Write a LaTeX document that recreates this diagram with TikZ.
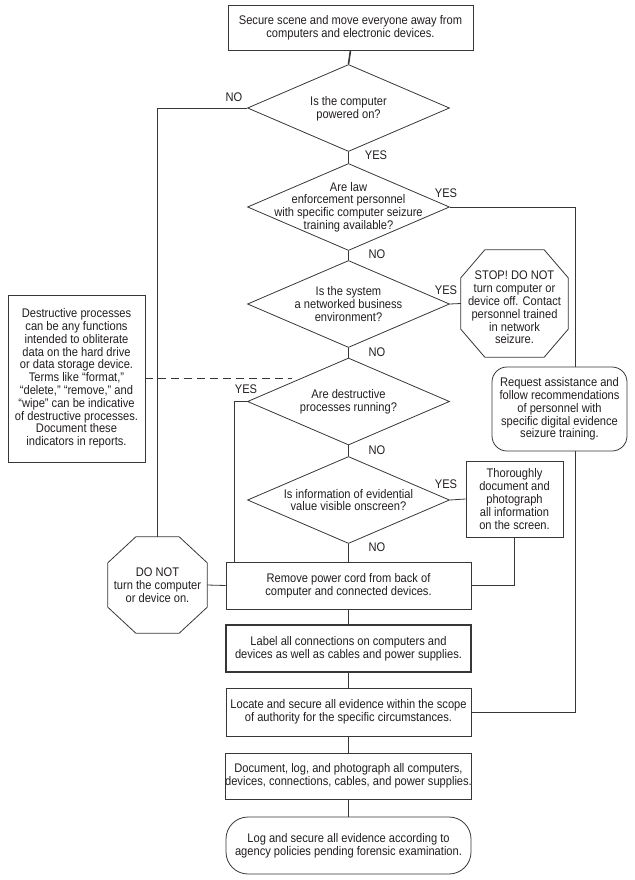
\documentclass[tikz,border=0pt]{standalone}
\usepackage{fontspec}
\setmainfont{Liberation Sans}[FakeStretch=0.89]
\usetikzlibrary{shapes.geometric}
\definecolor{ink}{RGB}{35,31,32}
\definecolor{rulec}{RGB}{55,55,55}
\newcommand{\octdraw}[3]{\draw[shapeline] ([xshift=#2]#1.north west) -- ([xshift=-#2]#1.north east) -- ([yshift=-#3]#1.north east) -- ([yshift=#3]#1.south east) -- ([xshift=-#2]#1.south east) -- ([xshift=#2]#1.south west) -- ([yshift=#3]#1.south west) -- ([yshift=-#3]#1.north west) -- cycle;}
\begin{document}
\begin{tikzpicture}[x=1pt,y=-1pt,
  every node/.style={font=\fontsize{12.5}{12.8}\selectfont, text=ink, align=center, inner sep=0pt},
  shapeline/.style={draw=rulec, line width=0.8pt},
  box/.style={shapeline, fill=white, minimum width=245pt, minimum height=47pt},
  dia/.style={diamond, shapeline, minimum width=202pt, minimum height=87pt},
  plain/.style={shapeline, fill=white},
  mainlink/.style={draw=rulec, line width=1.6pt},
  sidelink/.style={draw=rulec, line width=0.8pt},
  dashlink/.style={draw=rulec, line width=1.6pt, dash pattern=on 8pt off 5pt}
]
\useasboundingbox (0,0) rectangle (634,880);

% main column
\node[box, minimum height=45pt] (b1) at (350.5,27.5) {Secure scene and move everyone away from\\computers and electronic devices.};
\node[dia, label={[yshift=-1pt]center:{Is the computer\\powered on?}}] (d1) at (348.5,108) {};
\node[dia, label={center:{Are law\\enforcement personnel\\with specific computer seizure\\training available?}}] (d2) at (348.5,207) {};
\node[dia, label={center:{Is the system\\a networked business\\environment?}}] (d3) at (348.5,304) {};
\node[dia, label={center:{Are destructive\\processes running?}}] (d4) at (348.5,401.5) {};
\node[dia, label={center:{Is information of evidential\\value visible onscreen?}}] (d5) at (348.5,500) {};
\node[box] (remove) at (348.5,585.5) {Remove power cord from back of\\computer and connected devices.};
\node[box, line width=1.2pt] (label) at (348.5,648.5) {Label all connections on computers and\\devices as well as cables and power supplies.};
\node[box, minimum height=48pt] (locate) at (348.5,712) {Locate and secure all evidence within the scope\\of authority for the specific circumstances.};
\node[box, minimum height=46pt] (document) at (348.5,776) {Document, log, and photograph all computers,\\devices, connections, cables, and power supplies.};
\node[box, minimum height=57pt, rounded corners=22pt] (log) at (348.5,845.5) {Log and secure all evidence according to\\agency policies pending forensic examination.};

% side shapes
\node[minimum width=107pt, minimum height=107pt, label={[yshift=-4pt]center:{STOP! DO NOT\\turn computer or\\device off. Contact\\personnel trained\\in network\\seizure.}}] (stop) at (514.5,303.5) {};
\octdraw{stop}{24pt}{28pt}
\node[minimum width=99pt, minimum height=96pt] (donot) at (157.5,585) {DO NOT\\turn the computer\\or device on.};
\octdraw{donot}{28pt}{26pt}
\node[plain, minimum width=135pt, minimum height=84pt, rounded corners=15pt] (req) at (559.5,409) {Request assistance and\\follow recommendations\\of personnel with\\specific digital evidence\\seizure training.};
\node[plain, minimum width=97pt, minimum height=76pt] (thor) at (514.5,499) {Thoroughly\\document and\\photograph\\all information\\on the screen.};
\node[plain, minimum width=137pt, minimum height=167pt] (note) at (76.5,378.5) {Destructive processes\\can be any functions\\intended to obliterate\\data on the hard drive\\or data storage device.\\Terms like “format,”\\“delete,” “remove,” and\\“wipe” can be indicative\\of destructive processes.\\Document these\\indicators in reports.};

\coordinate (rl) at (575,0);
\coordinate (dashend) at (292,378.5);

% main links
\draw[mainlink] (b1.south) -- (d1.north);
\draw[mainlink] (d1.south) -- (d2.north);
\draw[mainlink] (d2.south) -- (d3.north);
\draw[mainlink] (d3.south) -- (d4.north);
\draw[mainlink] (d4.south) -- (d5.north);
\draw[mainlink] (d5.south) -- (remove.north);
\draw[mainlink] (remove.south) -- (label.north);
\draw[mainlink] (label.south) -- (locate.north);
\draw[mainlink] (locate.south) -- (document.north);
\draw[mainlink] (document.south) -- (log.north);

% side links
\draw[sidelink] (d1.west) -| (donot.north);
\draw[sidelink] (donot.east) -- (remove.west);
\draw[sidelink] (d4.west) -| ([xshift=9pt]remove.north west);
\draw[sidelink] (d3.east) -- (stop.west);
\draw[sidelink] (d2.east) -| (rl |- req.north);
\draw[sidelink] (rl |- req.south) |- (locate.east);
\draw[sidelink] (d5.east) -- (thor.west);
\draw[sidelink] (thor.south) |- (remove.east);
\draw[dashlink] (note.east) -- (dashend);

% labels
\node (n1) at (234,97) {NO};
\node (y1) at (376,155) {YES};
\node (y2) at (446,193) {YES};
\node (n2) at (377,254) {NO};
\node (y3) at (446,290) {YES};
\node (n3) at (377,352) {NO};
\node (y4) at (246,389) {YES};
\node (n4) at (377,450) {NO};
\node (y5) at (446,484) {YES};
\node (n5) at (377,547) {NO};
\end{tikzpicture}
\end{document}
